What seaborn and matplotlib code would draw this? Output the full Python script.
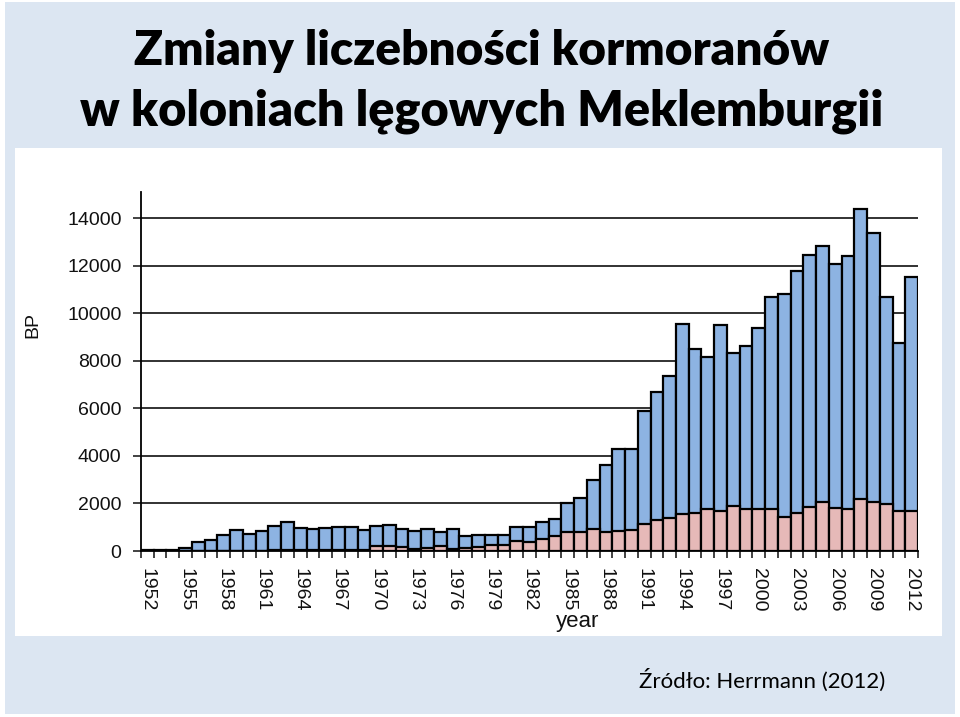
import matplotlib
matplotlib.use("Agg")
import matplotlib.pyplot as plt
import seaborn as sns
import numpy as np
import pandas as pd
from matplotlib.patches import Rectangle

years = list(range(1952, 2013))
total = [50, 50, 50, 130, 380, 480, 660, 900, 730, 845,
         1040, 1200, 985, 945, 985, 1030, 1030, 870, 1040, 1080,
         910, 850, 940, 810, 930, 640, 680, 680, 680, 1010,
         1010, 1210, 1350, 2000, 2210, 2970, 3600, 4280, 4310, 5890,
         6700, 7340, 9530, 8480, 8170, 9490, 8310, 8620, 9390, 10700,
         10830, 11770, 12450, 12840, 12090, 12390, 14390, 13380, 10700, 8730,
         11520]
lower = [20, 20, 20, 20, 20, 20, 20, 20, 20, 20,
         30, 30, 30, 30, 30, 60, 60, 60, 220, 220,
         150, 80, 120, 220, 100, 110, 170, 260, 260, 420,
         370, 510, 630, 820, 800, 940, 800, 830, 880, 1120,
         1300, 1370, 1560, 1600, 1750, 1680, 1890, 1760, 1760, 1760,
         1440, 1600, 1830, 2040, 1820, 1760, 2170, 2040, 1960, 1690,
         1690]
yticks = [0, 2000, 4000, 6000, 8000, 10000, 12000, 14000]
title_lines = ["Zmiany liczebności kormoranów", "w koloniach lęgowych Meklemburgii"]
source_text = "Źródło: Herrmann (2012)"

df = pd.DataFrame({"year": years, "total": total, "lower": lower})

BG = "#dce6f2"
BLUE = "#8db3e2"
PINK = "#e6b9b8"

sns.set_style("white")
plt.rcParams["font.family"] = ["Liberation Sans", "DejaVu Sans"]

W, H = 960, 717
fig = plt.figure(figsize=(W / 100, H / 100), dpi=100)
fig.patch.set_facecolor("white")

# light blue slide background and white chart panel
fig.patches.append(Rectangle((5 / W, 1 - 714 / H), 950 / W, 712 / H,
                             transform=fig.transFigure, facecolor=BG,
                             edgecolor="none", zorder=-10))
fig.patches.append(Rectangle((15 / W, 1 - 636 / H), 927 / W, 488 / H,
                             transform=fig.transFigure, facecolor="white",
                             edgecolor="none", zorder=-9))

ax = fig.add_axes([141 / W, 1 - 551 / H, (918 - 141) / W, (551 - 192) / H])
ax.set_facecolor("none")

sns.barplot(data=df, x="year", y="total", color=BLUE, saturation=1,
            width=1.0, edgecolor="black", linewidth=1.6, ax=ax, zorder=3)
sns.barplot(data=df, x="year", y="lower", color=PINK, saturation=1,
            width=1.0, edgecolor="black", linewidth=1.6, ax=ax, zorder=4)

n = len(years)
ax.set_xlim(-0.5, n - 0.5)
ax.set_ylim(0, 15100)

ax.set_yticks(yticks)
ax.set_yticklabels([str(v) for v in yticks], fontsize=14, color="#111111")
ax.yaxis.grid(True, color="#222222", linewidth=1.3, zorder=0)
ax.set_axisbelow(True)
ax.tick_params(axis="y", length=6, width=1.2, color="#222222", pad=8,
               left=True)

major = list(range(0, n, 3))
ax.set_xticks(major)
ax.set_xticklabels([str(years[i]) for i in major], rotation=270,
                   fontsize=14, va="top", ha="center", color="#111111")
ax.set_xticks(np.arange(-0.5, n, 1.0), minor=True)
ax.tick_params(axis="x", which="major", length=0, pad=12)
ax.tick_params(axis="x", which="minor", length=5, width=1.2,
               color="#222222", bottom=True)

for s in ["top", "right"]:
    ax.spines[s].set_visible(False)
for s in ["left", "bottom"]:
    ax.spines[s].set_color("black")
    ax.spines[s].set_linewidth(1.3)
ax.set_xlabel("")
ax.set_ylabel("")

fig.text(33 / W, 1 - 325 / H, "BP", rotation=90, fontsize=14,
         ha="center", va="center", color="#111111")
fig.text(578 / W, 1 - 621 / H, "year", fontsize=16, ha="center",
         va="center", color="#111111")

# title, fitted to measured widths
fig.canvas.draw()
renderer = fig.canvas.get_renderer()
targets = [(482, 65, 697), (482, 125, 805)]
for line, (cx, base, width) in zip(title_lines, targets):
    t = fig.text(cx / W, 1 - base / H, line, fontsize=36,
                 fontweight="heavy", family=["Lato", "DejaVu Sans"],
                 ha="center", va="baseline", color="black")
    bb = t.get_window_extent(renderer)
    t.set_fontsize(36 * width / bb.width)

s = fig.text(762 / W, 1 - 688 / H, source_text, fontsize=17,
             family=["Lato", "DejaVu Sans"], ha="center", va="baseline",
             color="black")
bb = s.get_window_extent(renderer)
s.set_fontsize(17 * 245 / bb.width)

fig.savefig("out.png", dpi=100, facecolor=fig.get_facecolor())
